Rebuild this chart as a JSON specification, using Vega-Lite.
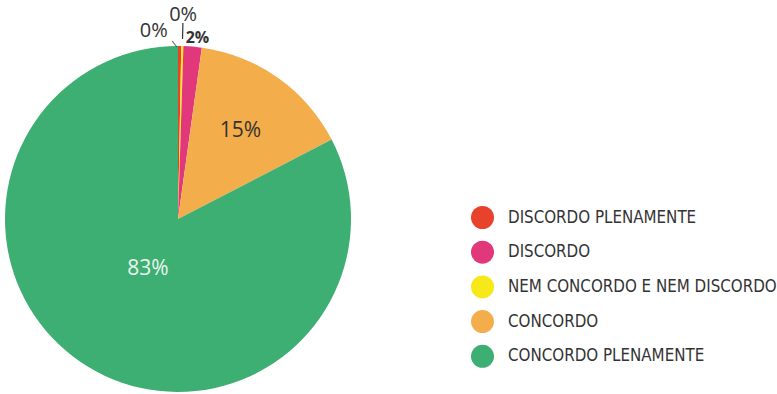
{
  "$schema": "https://vega.github.io/schema/vega-lite/v6.json",
  "width": 356,
  "height": 346,
  "autosize": "none",
  "padding": {"left": 0, "top": 46, "right": 421, "bottom": 2},
  "background": "white",
  "data": {
    "values": [
      {"resposta": "DISCORDO PLENAMENTE", "valor": 0.3, "rotulo": "0%", "ordem": 1},
      {"resposta": "NEM CONCORDO E NEM DISCORDO", "valor": 0.2, "rotulo": "0%", "ordem": 2},
      {"resposta": "DISCORDO", "valor": 1.7, "rotulo": "2%", "ordem": 3},
      {"resposta": "CONCORDO", "valor": 15.2, "rotulo": "15%", "ordem": 4},
      {"resposta": "CONCORDO PLENAMENTE", "valor": 82.6, "rotulo": "83%", "ordem": 5}
    ]
  },
  "encoding": {
    "theta": {"field": "valor", "type": "quantitative", "stack": true},
    "order": {"field": "ordem", "type": "quantitative"},
    "color": {
      "field": "resposta",
      "type": "nominal",
      "sort": ["DISCORDO PLENAMENTE", "DISCORDO", "NEM CONCORDO E NEM DISCORDO", "CONCORDO", "CONCORDO PLENAMENTE"],
      "scale": {
        "domain": ["DISCORDO PLENAMENTE", "DISCORDO", "NEM CONCORDO E NEM DISCORDO", "CONCORDO", "CONCORDO PLENAMENTE"],
        "range": ["#e8412c", "#e0387a", "#f7e81a", "#f4ad4b", "#3daf72"]
      },
      "legend": {
        "title": null,
        "orient": "none",
        "legendX": 471,
        "legendY": 160,
        "symbolType": "circle",
        "symbolSize": 529,
        "symbolStrokeWidth": 0,
        "symbolOpacity": 1,
        "rowPadding": 11.7,
        "labelOffset": 14,
        "labelFont": "DejaVu Sans Condensed, Liberation Sans Narrow, sans-serif",
        "labelFontSize": 16.8,
        "labelColor": "#333333",
        "labelLimit": 400,
        "padding": 0
      }
    }
  },
  "layer": [
    {"mark": {"type": "arc", "outerRadius": 173}},
    {
      "mark": {"type": "arc", "innerRadius": 180, "outerRadius": 196, "padAngle": 0.2, "fillOpacity": 0, "stroke": "#333333", "strokeWidth": 1.2},
      "encoding": {
        "strokeOpacity": {"condition": {"test": "datum.resposta == 'NEM CONCORDO E NEM DISCORDO'", "value": 1}, "value": 0}
      }
    },
    {
      "mark": {"type": "text", "radius": 177, "dx": -5.5, "text": "\\", "font": "DejaVu Sans", "fontSize": 9, "angle": 340},
      "encoding": {
        "opacity": {"condition": {"test": "datum.resposta == 'DISCORDO PLENAMENTE'", "value": 1}, "value": 0},
        "color": {"value": "#333333"}
      }
    },
    {
      "mark": {"type": "text", "radius": 188, "dx": -26, "font": "Open Sans", "fontSize": 20, "baseline": "middle", "align": "center"},
      "encoding": {
        "text": {"condition": {"test": "datum.resposta == 'DISCORDO PLENAMENTE'", "field": "rotulo"}, "value": ""},
        "color": {"value": "#333333"}
      }
    },
    {
      "mark": {"type": "text", "radius": 204, "font": "Open Sans", "fontSize": 20, "baseline": "middle", "align": "center"},
      "encoding": {
        "text": {"condition": {"test": "datum.resposta == 'NEM CONCORDO E NEM DISCORDO'", "field": "rotulo"}, "value": ""},
        "color": {"value": "#333333"}
      }
    },
    {
      "mark": {"type": "text", "radius": 182, "dx": 4, "font": "Open Sans", "fontSize": 16, "fontWeight": "bold", "baseline": "middle", "align": "center"},
      "encoding": {
        "text": {"condition": {"test": "datum.resposta == 'DISCORDO'", "field": "rotulo"}, "value": ""},
        "color": {"value": "#333333"}
      }
    },
    {
      "mark": {"type": "text", "radius": 108, "font": "Open Sans", "fontSize": 21, "baseline": "middle", "align": "center"},
      "encoding": {
        "text": {"condition": {"test": "datum.resposta == 'CONCORDO'", "field": "rotulo"}, "value": ""},
        "color": {"value": "#333333"}
      }
    },
    {
      "mark": {"type": "text", "radius": 58, "font": "Open Sans", "fontSize": 21, "baseline": "middle", "align": "center"},
      "encoding": {
        "text": {"condition": {"test": "datum.resposta == 'CONCORDO PLENAMENTE'", "field": "rotulo"}, "value": ""},
        "color": {"value": "#eaf6ee"}
      }
    }
  ],
  "config": {"view": {"stroke": null}}
}
